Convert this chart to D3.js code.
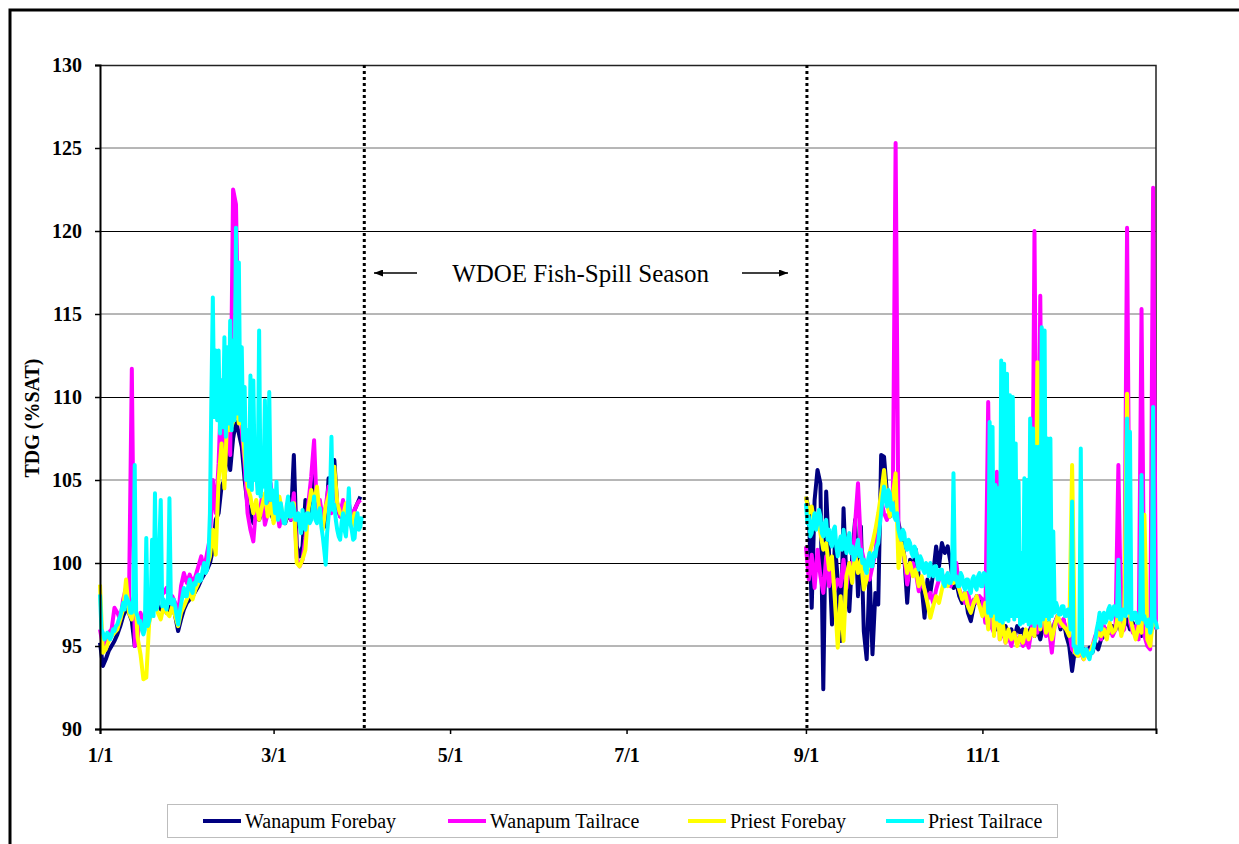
<!DOCTYPE html>
<html>
<head>
<meta charset="utf-8">
<script src="https://cdn.jsdelivr.net/npm/d3@7"></script>
<style>
  body { margin: 0; background: #fff; }
  svg { display: block; }
  svg text { font-family: "Liberation Serif", "Times New Roman", Times, serif; }
</style>
</head>
<body>
<script>
// ---- data (TDG, %SAT) ----
// daily readings for the two forebays and Wanapum tailrace,
// twice-daily readings for Priest tailrace (it swings a lot)
const winterStart = "2004-01-01";
const fallStart = "2004-09-01";
const seriesNames = ["Wanapum Forebay", "Wanapum Tailrace", "Priest Forebay", "Priest Tailrace"];
const seriesColors = ["#000080", "#ff00ff", "#ffff00", "#00ffff"];
const stepHours = [24, 24, 24, 12];

const wanapumForebayWinter = [
  95.2, 93.8, 94.2, 94.7, 95.0, 95.3, 95.7, 96.2, 96.8, 97.2,
  97.0, 96.5, 95.0, 95.8, 96.4, 96.8, 96.6, 97.0, 97.3, 97.8,
  97.4, 97.2, 97.6, 97.0, 97.3, 97.5, 96.8, 95.9, 96.6, 97.2,
  97.6, 97.8, 98.0, 98.3, 98.6, 99.0, 99.3, 99.6, 100.0, 100.8,
  102.6, 103.0, 104.6, 105.0, 107.0, 105.6, 107.5, 108.5, 107.8, 107.0,
  105.0, 103.5, 103.0, 102.4, 102.8, 102.6, 103.2, 102.8, 103.4, 103.0,
  102.6, 103.0, 102.5, 102.8, 102.4, 103.0, 102.6, 106.5, 101.0, 100.4,
  101.0, 103.8, 102.6, 103.4, 105.3, 103.2, 102.6, 103.0, 102.2, 105.1,
  103.6, 106.2, 103.4, 102.8, 103.6, 102.6, 103.0, 102.4, 103.2, 103.6,
  104.0];
const wanapumTailraceWinter = [
  96.0, 95.0, 95.2, 95.8, 96.0, 97.3, 97.0, 96.6, 97.8, 98.5,
  97.5, 111.7, 95.0, 95.5, 97.0, 96.5, 97.2, 97.0, 98.0, 98.4,
  97.6, 98.6, 98.2, 98.5, 97.8, 98.0, 97.6, 96.8, 98.6, 99.4,
  98.8, 99.3, 98.8, 99.2, 99.8, 100.4, 99.6, 100.6, 101.5, 105.0,
  103.0, 106.0, 111.0, 105.0, 109.0, 106.5, 122.5, 121.6, 112.0, 108.0,
  106.0, 103.0, 102.0, 101.3, 103.5, 102.8, 104.0, 102.3, 103.0, 104.8,
  102.8, 103.6, 102.2, 103.0, 102.5, 103.4, 102.6, 104.2, 100.3, 99.8,
  100.2, 101.5, 103.6, 105.2, 107.4, 103.0, 103.8, 102.6, 103.4, 104.6,
  103.0, 105.0, 103.6, 102.8, 103.8, 102.4, 103.6, 102.8, 103.2, 103.6,
  103.8];
const priestForebayWinter = [
  98.7, 94.6, 94.8, 95.3, 95.6, 95.8, 96.0, 96.6, 97.2, 99.0,
  97.0, 96.6, 98.5, 95.5, 94.5, 93.0, 93.1, 96.4, 97.2, 97.6,
  97.0, 96.6, 97.4, 97.0, 96.8, 97.4, 96.8, 96.2, 97.0, 97.4,
  97.8, 98.2, 97.8, 98.4, 98.8, 99.2, 99.6, 99.8, 100.4, 102.0,
  100.5, 105.0, 107.2, 104.5, 109.0, 108.0, 108.5, 109.6, 108.4, 108.8,
  106.5, 104.6, 104.0, 103.0, 103.8, 102.6, 103.4, 104.2, 102.8, 103.6,
  102.4, 103.2, 104.0, 103.0, 102.5, 103.2, 102.8, 103.6, 100.0, 99.8,
  100.2, 100.8, 103.2, 104.4, 103.6, 104.6, 102.8, 102.0, 103.4, 104.0,
  104.8, 105.8, 103.6, 103.0, 102.8, 103.6, 102.6, 102.2, 103.0, 102.6,
  102.4];
const priestTailraceWinter = [
  98.1, 96.0, 95.8, 95.4, 95.5, 95.8, 95.7, 95.4, 95.6, 96.0, 95.9, 96.2, 96.3, 96.6, 96.8, 97.2, 97.6, 97.2, 98.0, 97.8,
  97.6, 97.0, 97.0, 98.0, 105.9, 97.0, 96.8, 96.4, 96.5, 96.0, 95.7, 96.0, 101.5, 96.2, 96.5, 97.0, 101.4, 96.8, 104.2, 97.2,
  97.5, 101.0, 103.8, 97.4, 97.8, 97.4, 97.2, 97.8, 103.9, 97.6, 97.5, 97.8, 97.4, 96.8, 96.3, 97.0, 97.5, 98.0, 98.5, 98.0,
  98.0, 98.6, 99.0, 98.4, 98.2, 98.8, 98.7, 99.2, 99.3, 98.9, 99.0, 99.6, 100.0, 99.4, 99.6, 100.4, 103.0, 110.0, 116.0, 108.8,
  112.8, 108.6, 112.8, 107.8, 111.0, 108.2, 113.6, 107.6, 113.0, 108.4, 114.6, 108.0, 113.4, 108.6, 120.2, 109.0, 118.1, 108.6, 113.0, 107.4,
  110.6, 105.0, 108.0, 104.6, 111.3, 104.4, 111.0, 105.0, 105.5, 104.2, 114.0, 104.0, 105.0, 104.6, 109.8, 103.6, 104.2, 110.3, 103.8, 104.4,
  104.0, 103.0, 104.9, 102.6, 102.8, 103.6, 103.0, 102.4, 102.4, 103.4, 104.0, 102.8, 102.8, 103.6, 103.3, 102.6, 102.6, 103.0, 102.3, 101.8,
  103.2, 102.4, 102.0, 103.0, 103.0, 102.4, 102.6, 103.2, 104.0, 102.6, 102.4, 103.0, 103.3, 102.2, 101.6, 100.8, 99.9, 101.8, 102.8, 104.0,
  107.6, 103.2, 103.5, 102.6, 102.0, 101.6, 101.4, 102.4, 103.0, 102.0, 101.6, 102.8, 104.5, 102.4, 102.0, 101.4, 101.5, 102.6, 103.0, 102.0,
  102.2, 102.8];

const wanapumForebayFall = [
  104.0, 103.2, 97.3, 103.8, 105.6, 104.8, 92.4, 104.3, 100.5, 96.3,
  101.2, 99.0, 95.3, 103.3, 99.0, 97.1, 100.4, 102.6, 98.0, 102.2,
  95.9, 94.2, 99.5, 94.5, 98.2, 97.5, 106.5, 106.4, 104.2, 102.8,
  104.0, 103.2, 102.4, 101.6, 100.4, 97.6, 100.2, 99.6, 100.8, 99.2,
  98.6, 96.7, 99.0, 98.2, 99.4, 101.0, 99.8, 101.2, 100.6, 101.0,
  100.0, 98.5, 98.8, 98.0, 97.6, 98.2, 97.0, 96.5, 97.4, 98.0,
  97.6, 97.8, 97.2, 96.8, 96.4, 96.8, 96.0, 96.4, 95.8, 96.2,
  95.6, 96.0, 95.4, 96.2, 95.8, 96.0, 95.2, 95.8, 96.2, 95.6,
  96.0, 95.4, 96.2, 96.0, 96.4, 95.6, 96.4, 96.8, 96.0, 96.6,
  95.6, 95.0, 93.5, 94.8, 94.4, 95.0, 94.8, 94.6, 94.9, 94.6,
  95.2, 94.8, 95.4, 95.6, 96.0, 95.8, 96.2, 96.0, 96.4, 95.8,
  96.2, 96.6, 96.0, 96.4, 95.8, 96.0, 95.6, 96.2, 95.8, 96.0,
  96.8, 96.4];
const wanapumTailraceFall = [
  101.0, 99.0, 100.5, 98.5, 100.8, 99.2, 98.2, 100.4, 98.6, 99.6,
  98.4, 99.0, 98.6, 100.2, 98.5, 100.0, 99.4, 102.4, 104.8, 101.0,
  100.2, 99.6, 99.0, 99.8, 100.6, 102.4, 103.8, 103.0, 102.6, 103.2,
  103.0, 125.3, 101.6, 101.0, 100.4, 98.7, 99.6, 100.0, 99.4, 98.3,
  98.9, 98.4, 97.8, 98.2, 97.6, 98.4, 99.0, 99.4, 98.8, 99.2,
  98.6, 99.0, 100.0, 98.4, 98.0, 97.6, 98.2, 97.4, 97.8, 97.6,
  98.0, 97.8, 96.4, 109.7, 96.2, 95.8, 105.5, 95.4, 96.0, 95.2,
  95.6, 95.0, 95.8, 95.2, 95.6, 95.0, 95.4, 94.9, 96.0, 120.0,
  95.8, 116.1, 96.4, 95.6, 96.0, 94.6, 96.4, 96.8, 96.2, 96.6,
  96.0, 95.8, 94.8, 94.6, 94.4, 94.6, 94.2, 94.8, 94.5, 95.0,
  95.6, 96.0, 95.4, 96.2, 95.8, 96.2, 95.6, 96.0, 105.9, 95.8,
  96.0, 120.2, 96.4, 95.8, 96.2, 95.4, 115.3, 95.6, 95.0, 94.8,
  122.6, 96.0];
const priestForebayFall = [
  104.0, 103.0, 103.4, 102.2, 102.8, 101.8, 100.8, 101.2, 99.6, 100.4,
  97.8, 94.9, 98.0, 95.3, 99.2, 100.0, 98.8, 100.6, 99.4, 100.2,
  98.4, 99.0, 100.6, 101.2, 102.0, 103.0, 104.2, 105.6, 103.6, 102.8,
  104.0, 105.4, 99.7, 101.2, 100.4, 99.4, 100.0, 99.2, 99.6, 98.6,
  99.2, 98.4, 97.6, 96.7, 97.4, 98.0, 97.6, 98.4, 99.0, 98.6,
  99.2, 98.8, 99.0, 98.4, 97.8, 98.2, 97.4, 97.0, 97.6, 98.0,
  97.4, 96.8, 97.6, 96.0, 100.6, 95.6, 97.8, 95.4, 96.4, 95.2,
  96.0, 95.4, 95.8, 95.0, 95.6, 95.2, 96.0, 95.4, 96.0, 95.6,
  112.1, 96.0, 97.8, 95.8, 96.4, 95.4, 96.2, 96.8, 96.4, 96.2,
  96.0, 95.6, 105.9, 94.6, 94.4, 94.8, 94.2, 94.6, 94.4, 95.0,
  95.4, 95.8, 95.6, 96.0, 95.4, 96.4, 95.8, 96.0, 97.0, 95.6,
  96.4, 110.2, 96.8, 96.0, 95.4, 96.2, 95.8, 102.9, 95.4, 95.0,
  96.6, 96.2];
const priestTailraceFall = [
  103.6, 102.4, 102.8, 101.6, 101.8, 102.6, 103.0, 102.0, 102.4, 103.2, 102.8, 101.8, 101.6, 102.4, 102.6, 101.4, 102.0, 101.2, 101.0, 102.0,
  102.2, 101.0, 100.4, 101.2, 101.6, 100.8, 102.0, 101.2, 100.6, 101.4, 101.8, 100.6, 101.0, 100.2, 100.4, 101.0, 101.4, 100.4, 100.8, 100.0,
  100.2, 99.6, 99.4, 100.2, 100.6, 99.8, 99.8, 100.6, 100.4, 101.0, 101.2, 102.2, 103.0, 104.0, 104.6, 103.8, 103.4, 104.4, 104.2, 103.2,
  103.6, 102.8, 102.6, 103.0, 102.0, 101.6, 101.4, 102.0, 101.8, 101.0, 100.8, 101.4, 101.2, 100.6, 100.4, 101.0, 100.8, 100.0, 99.6, 100.4,
  100.2, 99.6, 99.4, 100.0, 99.8, 99.2, 100.0, 99.4, 99.2, 99.8, 99.8, 99.0, 99.0, 99.6, 99.6, 98.8, 98.6, 99.2, 99.4, 98.8,
  98.8, 99.2, 105.4, 99.0, 99.2, 98.6, 98.6, 99.4, 99.2, 98.6, 98.4, 99.0, 99.0, 98.4, 98.2, 99.0, 99.2, 98.6, 98.4, 99.2,
  99.4, 98.6, 98.6, 99.4, 99.3, 98.8, 97.0, 108.5, 96.8, 108.2, 97.0, 104.7, 96.6, 104.5, 96.5, 112.2, 96.4, 112.0, 96.6, 111.4,
  96.5, 110.1, 96.8, 110.0, 96.6, 107.2, 96.8, 104.9, 96.3, 100.6, 96.4, 105.1, 96.5, 105.0, 96.3, 108.7, 96.4, 108.1, 96.2, 107.0,
  96.4, 107.0, 96.2, 114.2, 96.6, 114.0, 96.8, 107.5, 96.6, 107.5, 96.8, 101.9, 97.0, 97.6, 97.3, 96.9, 96.9, 97.4, 97.4, 96.8,
  96.8, 97.2, 97.2, 96.0, 103.7, 95.0, 95.0, 94.6, 94.6, 94.8, 106.9, 94.6, 94.4, 94.8, 94.8, 94.4, 94.2, 94.6, 94.6, 95.0,
  95.4, 96.0, 96.4, 97.0, 96.0, 96.6, 97.0, 96.4, 96.6, 97.2, 97.4, 96.6, 96.8, 97.4, 97.2, 96.8, 100.2, 96.6, 96.6, 97.2,
  97.0, 96.8, 108.7, 97.0, 107.9, 96.6, 96.6, 97.0, 97.0, 96.4, 96.4, 96.8, 105.3, 96.6, 96.8, 96.4, 96.2, 96.6, 95.8, 96.2,
  109.4, 96.6, 96.4, 96.0];

const yTicks = [90, 95, 100, 105, 110, 115, 120, 125, 130];
const xTickDates = ["2004-01-01", "2004-03-01", "2004-05-01", "2004-07-01", "2004-09-01", "2004-11-01"];
const xTickLabels = ["1/1", "3/1", "5/1", "7/1", "9/1", "11/1"];
const spillSeason = ["2004-04-01", "2004-09-01"];
const spillLabel = "WDOE Fish-Spill Season";

// ---- layout ----
const width = 1239;
const height = 844;
const marginTop = 65;
const marginRight = 83;
const marginBottom = 115;
const marginLeft = 100;
const serif = "'Liberation Serif', 'Times New Roman', Times, serif";

const parse = d3.utcParse("%Y-%m-%d");

const x = d3.scaleUtc()
  .domain([parse("2004-01-01"), parse("2004-12-31")])
  .range([marginLeft, width - marginRight]);

const y = d3.scaleLinear()
  .domain([90, 130])
  .range([height - marginBottom, marginTop]);

const svg = d3.select("body").append("svg")
  .attr("width", width)
  .attr("height", height)
  .attr("font-family", serif);

svg.append("rect").attr("width", width).attr("height", height).attr("fill", "#fff");

// outer chart frame (runs off the right and bottom edges)
svg.append("path")
  .attr("d", `M10,${height + 5}V10H${width + 5}`)
  .attr("fill", "none")
  .attr("stroke", "#000")
  .attr("stroke-width", 3);

// gridlines
svg.append("g")
  .selectAll("line")
  .data(yTicks.filter(d => d > 90 && d < 130))
  .join("line")
    .attr("x1", marginLeft)
    .attr("x2", width - marginRight)
    .attr("y1", d => y(d) + (d % 10 ? 0 : 0.5))
    .attr("y2", d => y(d) + (d % 10 ? 0 : 0.5))
    .attr("stroke", d => d % 10 ? "#6e6e6e" : "#000")
    .attr("stroke-width", 1);

// plot border (top / right)
svg.append("path")
  .attr("d", `M${marginLeft},${marginTop + 0.5}H${width - marginRight}V${height - marginBottom}`)
  .attr("fill", "none")
  .attr("stroke", "#222")
  .attr("stroke-width", 1.5);

// series
const segments = [
  [wanapumForebayWinter, wanapumForebayFall],
  [wanapumTailraceWinter, wanapumTailraceFall],
  [priestForebayWinter, priestForebayFall],
  [priestTailraceWinter, priestTailraceFall]
];

const line = d3.line()
  .x(d => x(d.date))
  .y(d => y(d.value));

function toPoints(values, start, hours) {
  const s = parse(start);
  return values.map((v, i) => ({ date: d3.utcHour.offset(s, i * hours), value: v }));
}

const gSeries = svg.append("g");
segments.forEach(([winter, fall], k) => {
  [toPoints(winter, winterStart, stepHours[k]), toPoints(fall, fallStart, stepHours[k])].forEach(pts => {
    gSeries.append("path")
      .datum(pts)
      .attr("fill", "none")
      .attr("stroke", seriesColors[k])
      .attr("stroke-width", 4)
      .attr("stroke-linejoin", "round")
      .attr("d", line);
  });
});

// fish-spill season dotted lines
svg.append("g")
  .selectAll("line")
  .data(spillSeason)
  .join("line")
    .attr("x1", d => x(parse(d)) + 1)
    .attr("x2", d => x(parse(d)) + 1)
    .attr("y1", marginTop)
    .attr("y2", height - marginBottom)
    .attr("stroke", "#000")
    .attr("stroke-width", 3)
    .attr("stroke-dasharray", "3,3");

// annotation
const midX = (x(parse(spillSeason[0])) + x(parse(spillSeason[1]))) / 2;
svg.append("text")
  .attr("x", midX - 4)
  .attr("y", 282)
  .attr("text-anchor", "middle")
  .style("font-family", serif)
  .style("font-size", "25px")
  .text(spillLabel);

svg.append("defs").append("marker")
  .attr("id", "arrow")
  .attr("viewBox", "0 0 10 10")
  .attr("refX", 10)
  .attr("refY", 5)
  .attr("markerWidth", 9)
  .attr("markerHeight", 7)
  .attr("markerUnits", "userSpaceOnUse")
  .attr("orient", "auto")
  .attr("preserveAspectRatio", "none")
  .append("path")
    .attr("d", "M0,0L10,5L0,10Z")
    .attr("fill", "#000");

svg.append("line")
  .attr("x1", 417).attr("x2", 374).attr("y1", 273).attr("y2", 273)
  .attr("stroke", "#000").attr("stroke-width", 1.5)
  .attr("marker-end", "url(#arrow)");
svg.append("line")
  .attr("x1", 742).attr("x2", 788).attr("y1", 273).attr("y2", 273)
  .attr("stroke", "#000").attr("stroke-width", 1.5)
  .attr("marker-end", "url(#arrow)");

// axes
const yAxis = svg.append("g")
  .attr("transform", `translate(${marginLeft},0)`)
  .call(d3.axisLeft(y).tickValues(yTicks).tickSize(5).tickPadding(13).tickFormat(d3.format("d")));

const xAxis = svg.append("g")
  .attr("transform", `translate(0,${height - marginBottom})`)
  .call(d3.axisBottom(x)
    .tickValues(xTickDates.map(parse))
    .tickSize(5)
    .tickPadding(14)
    .tickFormat((d, i) => xTickLabels[i]));

[yAxis, xAxis].forEach(g => {
  g.attr("font-family", serif);
  g.select(".domain").attr("stroke", "#000").attr("stroke-width", 2);
  g.selectAll(".tick line").attr("stroke", "#000").attr("stroke-width", 1.5);
  g.selectAll(".tick text")
    .attr("fill", "#000")
    .style("font-family", serif)
    .style("font-size", "20px")
    .style("font-weight", "bold");
});

svg.append("text")
  .attr("transform", "translate(39,418) rotate(-90)")
  .attr("text-anchor", "middle")
  .style("font-family", serif)
  .style("font-size", "20px")
  .style("font-weight", "bold")
  .text("TDG (%SAT)");

// legend
const legendItemX = [203, 448, 688, 886];
const legend = svg.append("g");
legend.append("rect")
  .attr("x", 167.5)
  .attr("y", 804.5)
  .attr("width", 890)
  .attr("height", 33)
  .attr("fill", "#fff")
  .attr("stroke", "#bdbdbd");

const items = legend.selectAll("g.item")
  .data(seriesNames)
  .join("g")
    .attr("class", "item")
    .attr("transform", (d, i) => `translate(${legendItemX[i]},821)`);
items.append("line")
  .attr("x1", 0).attr("x2", 38)
  .attr("stroke", (d, i) => seriesColors[i])
  .attr("stroke-width", 4);
items.append("text")
  .attr("x", 42)
  .attr("y", 7)
  .style("font-family", serif)
  .style("font-size", "20px")
  .text(d => d);
</script>
</body>
</html>
